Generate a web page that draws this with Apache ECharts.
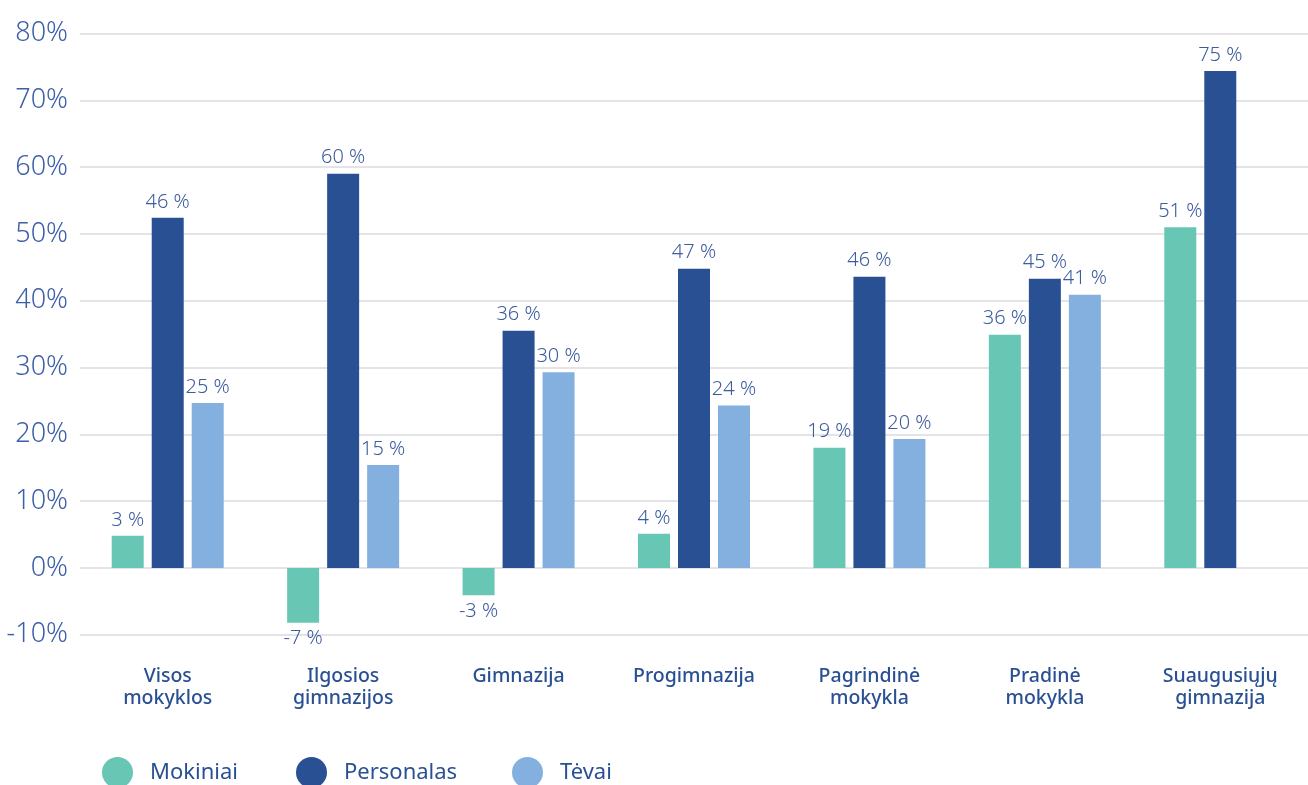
<!DOCTYPE html>
<html>
<head>
<meta charset="utf-8">
<script src="https://cdn.jsdelivr.net/npm/echarts@6/dist/echarts.min.js"></script>
<style>
  html, body { margin: 0; padding: 0; background: #fff; }
  #chart { width: 1308px; height: 785px; }
</style>
</head>
<body>
<div id="chart"></div>
<script>
// categories and series (bar heights, labels as printed)
const categories = ['Visos\nmokyklos', 'Ilgosios\ngimnazijos', 'Gimnazija', 'Progimnazija', 'Pagrindinė\nmokykla', 'Pradinė\nmokykla', 'Suaugusiųjų\ngimnazija'];
const seriesNames = ['Mokiniai', 'Personalas', 'Tėvai'];
const mokiniai = [4.8, -8.2, -4.1, 5.1, 18.0, 34.9, 51.0];
const personalas = [52.4, 59.0, 35.5, 44.8, 43.6, 43.3, 74.4];
const tevai = [24.7, 15.4, 29.3, 24.3, 19.3, 40.9, null];
const mokiniaiLabels = ['3 %', '-7 %', '-3 %', '4 %', '19 %', '36 %', '51 %'];
const personalasLabels = ['46 %', '60 %', '36 %', '47 %', '46 %', '45 %', '75 %'];
const tevaiLabels = ['25 %', '15 %', '30 %', '24 %', '20 %', '41 %', ''];
const colors = ['#68c6b5', '#2a5094', '#84b0e0'];
const legendLefts = [102, 296, 512];

const chart = echarts.init(document.getElementById('chart'));
const font = "'Noto Sans', sans-serif";

const makeSeries = (name, values, labels, color) => ({
    name: name,
    type: 'bar',
    barWidth: 32,
    barGap: '25%',
    itemStyle: {color: color},
    data: values.map(v => ({
        value: v,
        label: {position: v < 0 ? 'bottom' : 'top'}
    })),
    label: {
        show: true,
        distance: 6,
        color: '#3d5c9e',
        fontFamily: font,
        fontWeight: 300,
        fontSize: 20,
        formatter: p => labels[p.dataIndex]
    }
});

const legends = seriesNames.map((n, i) => ({
    data: [n],
    left: legendLefts[i],
    top: 757,
    padding: 0,
    icon: 'circle',
    itemWidth: 31,
    itemHeight: 31,
    selectedMode: false,
    textStyle: {
        color: '#2a5094',
        fontFamily: font,
        fontSize: 22,
        padding: [0, 0, 0, 12]
    }
}));

const option = {
    animation: false,
    color: colors,
    legend: legends,
    grid: {left: 80, right: 0, top: 33.5, bottom: 150.3},
    xAxis: {
        type: 'category',
        data: categories,
        axisLine: {show: false},
        axisTick: {show: false},
        axisLabel: {
            margin: 31,
            color: '#2a5094',
            fontFamily: font,
            fontWeight: 500,
            fontSize: 19.5,
            lineHeight: 22
        }
    },
    yAxis: {
        type: 'value',
        min: -10,
        max: 80,
        interval: 10,
        axisLine: {show: false},
        axisTick: {show: false},
        splitLine: {lineStyle: {color: '#e3e3e8', width: 2}},
        axisLabel: {
            margin: 12,
            color: '#3d5fa8',
            fontFamily: font,
            fontWeight: 300,
            fontSize: 27,
            padding: [0, 0, 10, 0],
            formatter: '{value}%'
        }
    },
    series: [
        makeSeries(seriesNames[0], mokiniai, mokiniaiLabels, colors[0]),
        makeSeries(seriesNames[1], personalas, personalasLabels, colors[1]),
        makeSeries(seriesNames[2], tevai, tevaiLabels, colors[2])
    ]
};

chart.setOption(option);
</script>
</body>
</html>
